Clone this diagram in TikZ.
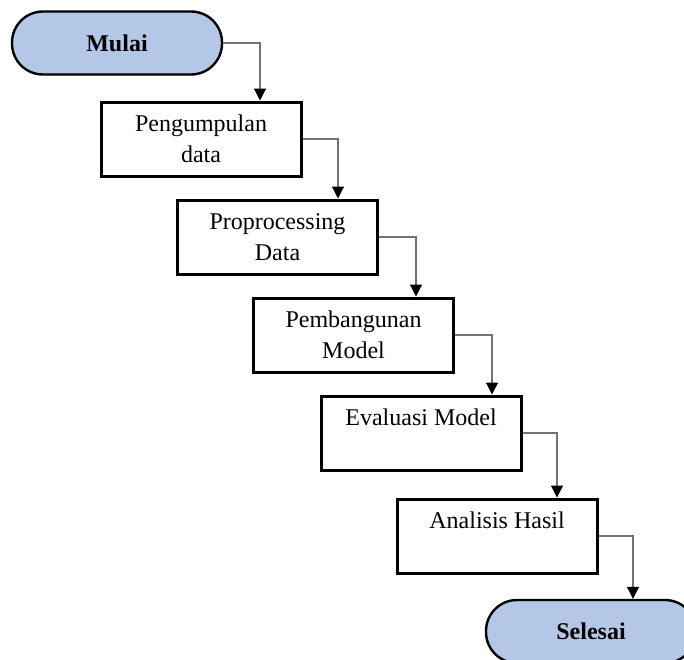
\documentclass[tikz,border=0pt]{standalone}
\usepackage{fontspec}
\setmainfont{Liberation Serif}
\usetikzlibrary{arrows.meta}
\definecolor{terminalblue}{HTML}{B4C7E7}
\tikzset{
	terminal/.style={draw,line width=2.4pt,fill=terminalblue,rounded corners=31pt,
		minimum width=210pt,minimum height=63pt,font=\fontsize{24}{31}\selectfont\bfseries},
	prosesbox/.style={draw,line width=3pt,minimum width=200pt,minimum height=74pt,
		align=center,font=\fontsize{24}{31}\selectfont},
	panah/.style={draw=black!55,line width=1.2pt,-{Triangle[black,width=12pt,length=12pt]}}
}
\begin{document}
\begin{tikzpicture}[x=1pt,y=-1pt]
	\useasboundingbox (0,0) rectangle (684,659);
	\clip (0,0) rectangle (684,659);
	\node[terminal] (T1) at (117,43) {Mulai};
	\node[prosesbox] (A1) at (201,139) {Pengumpulan\\data};
	\node[prosesbox] (A2) at (277.5,237) {Proprocessing\\Data};
	\node[prosesbox] (A3) at (353.5,335) {Pembangunan\\Model};
	\node[prosesbox] (A4) at (421,433) {Evaluasi Model\\\phantom{M}};
	\node[prosesbox] (A5) at (497,536) {Analisis Hasil\\\phantom{M}};
	\node[terminal] (T2) at (591,631.5) {Selesai};
	\foreach \a/\b/\s in {T1/A1/59,A1/A2/60.5,A2/A3/62.5,A3/A4/71,A4/A5/60,A5/T2/42}{
		\draw[panah] (\a.east) -| ([xshift=\s pt]\b.north);
	};
\end{tikzpicture}
\end{document}
